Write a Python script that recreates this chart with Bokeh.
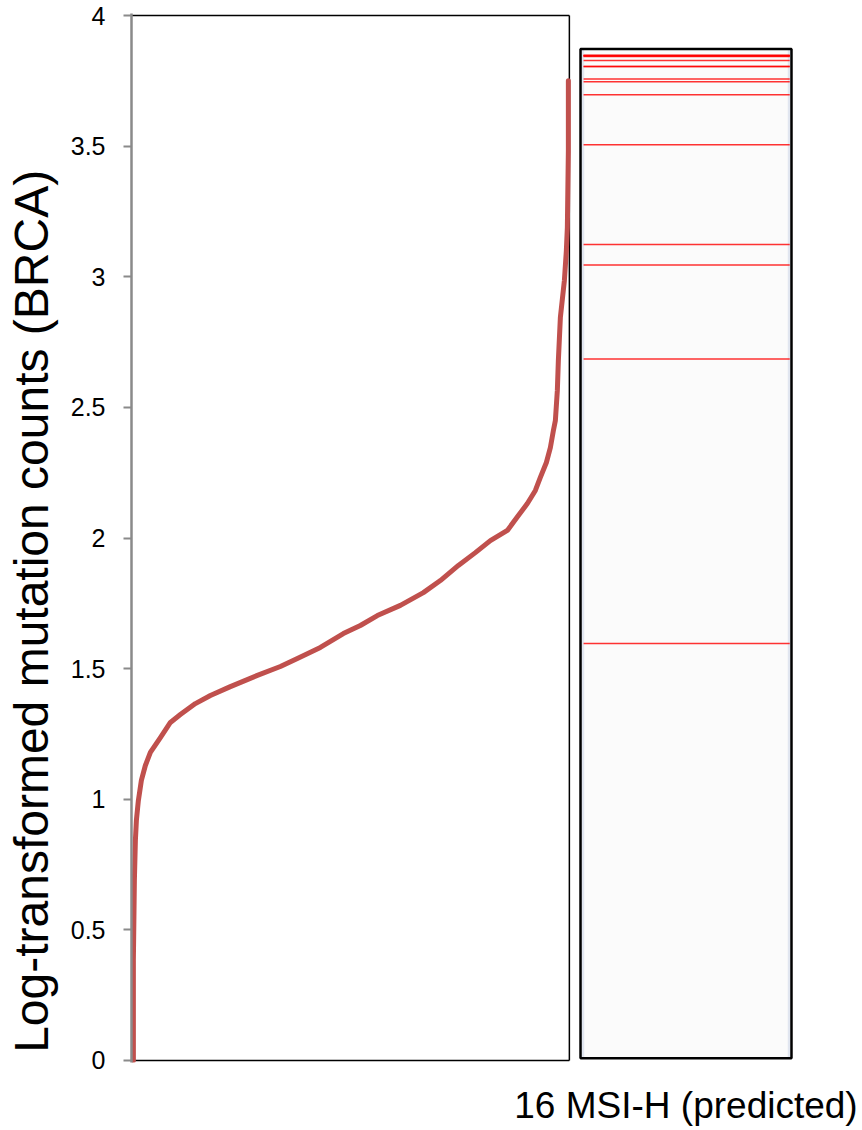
from bokeh.plotting import figure
from bokeh.models import Range1d, FixedTicker, CustomJSTickFormatter, LinearAxis
from bokeh.embed import file_html
from bokeh.resources import INLINE

# ---- data ----
# sorted samples: rank (0..1000 scale) vs log-transformed mutation count
CURVE_RANK = [2.3, 2.3, 4.6, 6.9, 9.2, 13.7, 20.6, 29.7, 41.2, 64.1, 87.0, 109.8,
              144.2, 178.5, 224.3, 286.0, 338.7, 377.6, 430.2, 482.8, 521.7, 560.6,
              613.3, 665.9, 704.8, 746.0, 784.9, 819.2, 858.1, 883.3, 903.9, 922.2,
              933.6, 947.4, 956.5, 963.4, 968.0, 972.5, 974.8, 979.4, 988.6, 993.1,
              995.4, 997.7, 997.7]
CURVE_LOG = [0.000, 0.383, 0.689, 0.842, 0.919, 0.995, 1.072, 1.129, 1.179, 1.236,
             1.294, 1.324, 1.366, 1.397, 1.431, 1.474, 1.508, 1.539, 1.581, 1.634,
             1.665, 1.703, 1.742, 1.791, 1.837, 1.895, 1.944, 1.990, 2.029, 2.086,
             2.132, 2.182, 2.232, 2.289, 2.346, 2.411, 2.450, 2.565, 2.679, 2.844,
             2.986, 3.100, 3.189, 3.483, 3.751]
# 16 predicted MSI-H samples
MSI_H = [3.847, 3.847, 3.847, 3.845, 3.843, 3.828, 3.805, 3.805, 3.757, 3.747,
         3.697, 3.506, 3.124, 3.045, 2.685, 1.596]
Y_TICKS = [0, 0.5, 1, 1.5, 2, 2.5, 3, 3.5, 4]
Y_LABEL = "Log-transformed mutation counts (BRCA)"
PANEL_LABEL = "16 MSI-H (predicted)"

# ---- layout constants ----
N_RANK = 1000
X_START, X_END = -2, 1531.2
PANEL_L, PANEL_R = 1025.5, 1508.3
PANEL_B, PANEL_T = 0.008, 3.872
FONT = "Liberation Sans"

p = figure(width=862, height=1130, output_backend="svg", toolbar_location=None,
           x_range=Range1d(X_START, X_END), y_range=Range1d(-0.008, 4.008),
           x_axis_location=None,
           min_border_left=131, min_border_right=61, min_border_top=13,
           min_border_bottom=68)
p.outline_line_color = None
p.grid.visible = False
p.background_fill_color = "white"
p.border_fill_color = "white"

ax = p.yaxis[0]
ax.ticker = FixedTicker(ticks=Y_TICKS)
ax.formatter = CustomJSTickFormatter(code="return tick.toString();")
ax.minor_tick_line_color = None
ax.major_tick_out = 8
ax.major_tick_in = 0
ax.major_tick_line_color = "#8a8a8a"
ax.major_tick_line_width = 2
ax.axis_line_color = "#8a8a8a"
ax.axis_line_width = 2.5
ax.major_label_text_font = FONT
ax.major_label_text_font_size = "25px"
ax.major_label_text_color = "black"
ax.major_label_standoff = 18

# a bare second left axis that carries only the axis title
# trailing no-break spaces push the (centred) title down along the axis
lx = LinearAxis(ticker=FixedTicker(ticks=[]))
lx.axis_line_color = None
lx.major_tick_line_color = None
lx.minor_tick_line_color = None
lx.major_tick_out = 0
lx.major_tick_in = 0
lx.major_label_standoff = 0
lx.axis_label = Y_LABEL + "\u00a0" * 11
lx.axis_label_text_font = FONT
lx.axis_label_text_font_size = "48px"
lx.axis_label_text_font_style = "normal"
lx.axis_label_text_color = "black"
lx.axis_label_standoff = 10
p.add_layout(lx, "left")

# bottom axis carrying the panel label under the right panel
bx = LinearAxis(ticker=FixedTicker(ticks=[(PANEL_L + PANEL_R) / 2]),
                formatter=CustomJSTickFormatter(args=dict(lbl=PANEL_LABEL),
                                                code="return lbl;"))
bx.axis_line_color = None
bx.major_tick_line_color = None
bx.minor_tick_line_color = None
bx.major_tick_out = 0
bx.major_tick_in = 0
bx.major_label_standoff = 22
bx.major_label_text_font = FONT
bx.major_label_text_font_size = "37px"
bx.major_label_text_color = "black"
p.add_layout(bx, "below")

# left box borders (top, right, bottom)
p.segment(x0=[X_START, N_RANK, X_START], y0=[4, 0, 0],
          x1=[N_RANK, N_RANK, N_RANK], y1=[4, 4, 0],
          line_color="black", line_width=1.5)

# sorted curve
p.line(CURVE_RANK, CURVE_LOG, line_color="#c0504d", line_width=5,
       line_join="round", line_cap="round")

# right panel
p.quad(left=[PANEL_L], right=[PANEL_R], bottom=[PANEL_B], top=[PANEL_T],
       fill_color="#fbfbfb", line_color=None)
p.segment(x0=[PANEL_L + 5, PANEL_R - 5], x1=[PANEL_L + 5, PANEL_R - 5],
          y0=[PANEL_B, PANEL_B], y1=[PANEL_T, PANEL_T],
          line_color="#e1e6f0", line_width=3)
p.segment(x0=[PANEL_L + 7] * len(MSI_H), x1=[PANEL_R - 4] * len(MSI_H),
          y0=MSI_H, y1=MSI_H, line_color="red", line_width=1.5, line_alpha=0.8)
p.quad(left=[PANEL_L], right=[PANEL_R], bottom=[PANEL_B], top=[PANEL_T],
       fill_color=None, line_color="black", line_width=2.5)

open("out.html", "w").write(file_html(p, INLINE))
